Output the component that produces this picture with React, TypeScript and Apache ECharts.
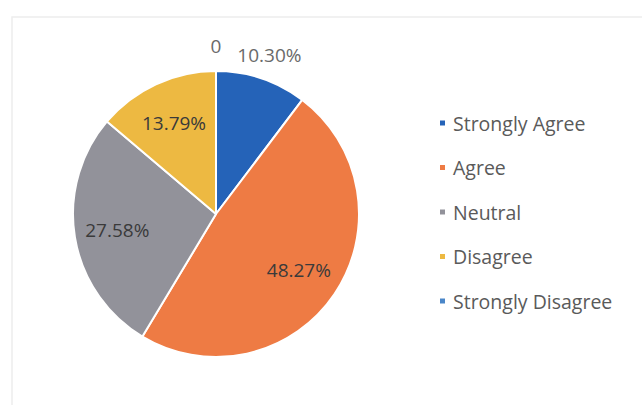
import React, { useEffect, useRef } from "react";
import * as echarts from "echarts";

const categories = ["Strongly Agree", "Agree", "Neutral", "Disagree", "Strongly Disagree"];
const values = [10.3, 48.27, 27.58, 13.79, 0];
const colors = ["#2563B8", "#EE7B44", "#92929A", "#EDB942", "#4A86C8"];
const outsideLabel = [true, false, false, false, true];

const fmt = (v: number) => (v === 0 ? "0" : v.toFixed(2) + "%");

export default function App() {
  const ref = useRef<HTMLDivElement>(null);
  useEffect(() => {
    document.body.style.margin = "0";
    const chart = echarts.init(ref.current!, undefined, { renderer: "svg" });
    const font = "'Open Sans', 'Liberation Sans', sans-serif";
    const center = [216, 214];
    const baseData = categories.map((name, i) => ({
      name,
      value: values[i],
      itemStyle: { color: colors[i] },
    }));
    const labelData = (outside: boolean) =>
      categories.map((name, i) => ({
        name,
        value: values[i],
        label: { show: outsideLabel[i] === outside },
      }));
    const labelSeries = (radius: number, outside: boolean) => ({
      type: "pie",
      silent: true,
      center,
      radius: [0, radius],
      startAngle: 90,
      clockwise: true,
      itemStyle: { color: "rgba(0,0,0,0)", borderWidth: 0 },
      emphasis: { disabled: true },
      labelLine: { show: false },
      label: {
        position: "inside",
        formatter: (p: any) => fmt(p.value),
        fontSize: 19,
        fontFamily: font,
        color: outside ? "#6a6a6a" : "#3a3a3a",
      },
      data: labelData(outside),
      tooltip: { show: false },
    });
    chart.setOption({
      animation: false,
      backgroundColor: "#ffffff",
      graphic: [
        {
          type: "rect",
          shape: { x: 12, y: 17, width: 640, height: 400 },
          style: { fill: "none", stroke: "#ededed", lineWidth: 1.5 },
          silent: true,
        },
      ],
      legend: {
        orient: "vertical",
        left: 433,
        top: 108,
        itemGap: 24.5,
        itemWidth: 7,
        itemHeight: 7,
        icon: "rect",
        textStyle: { fontSize: 19.5, fontFamily: font, color: "#5a5a5a", padding: [0, 0, 0, 2] },
        data: categories.map((name, i) => ({ name, itemStyle: { color: colors[i] } })),
      },
      series: [
        {
          type: "pie",
          center,
          radius: [0, 143],
          startAngle: 90,
          clockwise: true,
          itemStyle: { borderColor: "#ffffff", borderWidth: 2 },
          label: { show: false },
          labelLine: { show: false },
          emphasis: { disabled: true },
          data: baseData,
        },
        labelSeries(194, false),
        labelSeries(330, true),
      ],
    });
    return () => chart.dispose();
  }, []);
  return (
    <div
      ref={ref}
      style={{ position: "fixed", left: 0, top: 0, width: 642, height: 405 }}
    />
  );
}
